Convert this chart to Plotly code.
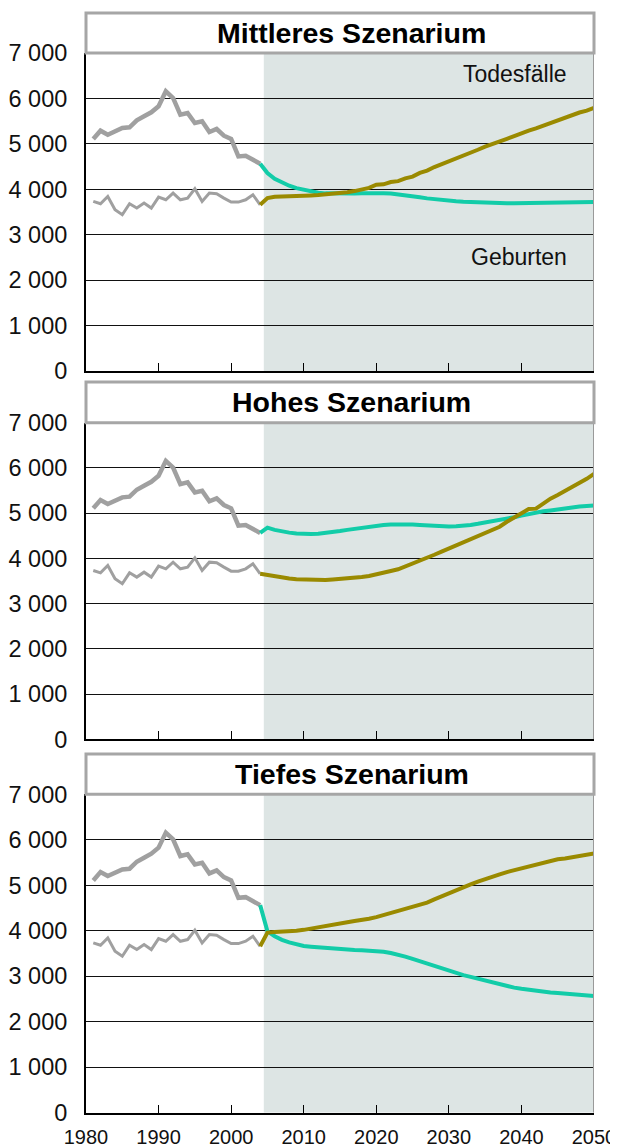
import plotly.graph_objects as go

# ---------------- data ----------------
hist_years = list(range(1981, 2005))
hist_births = [5107, 5290, 5202, 5275, 5349, 5364, 5518, 5606, 5694, 5827, 6157, 6010,
               5643, 5680, 5459, 5496, 5261, 5327, 5180, 5107, 4724, 4739, 4651, 4563]
hist_deaths = [3733, 3681, 3843, 3549, 3439, 3681, 3586, 3696, 3586, 3828, 3769, 3916,
               3769, 3806, 4012, 3733, 3916, 3902, 3806, 3718, 3718, 3769, 3880, 3659]

proj_years = list(range(2004, 2051))

mid_births = [4563, 4357, 4232, 4151, 4078, 4026, 3985, 3950, 3925, 3910,
              3905, 3900, 3900, 3905, 3910, 3915, 3920, 3915, 3905, 3890,
              3870, 3850, 3825, 3800, 3780, 3765, 3750, 3738, 3728, 3720,
              3712, 3706, 3700, 3697, 3695, 3695, 3697, 3700, 3703, 3707,
              3711, 3715, 3717, 3720, 3720, 3720, 3720]
mid_deaths = [3659, 3806, 3835, 3845, 3850, 3855, 3860, 3865, 3872, 3885,
              3900, 3915, 3935, 3960, 3990, 4030, 4100, 4110, 4160, 4180,
              4240, 4280, 4360, 4410, 4490, 4550, 4620, 4690, 4740, 4800,
              4870, 4940, 4990, 5060, 5110, 5170, 5240, 5290, 5340, 5400,
              5460, 5520, 5580, 5630, 5690, 5730, 5790]

high_births = [4563, 4680, 4630, 4595, 4570, 4550, 4540, 4538, 4545, 4560,
               4580, 4605, 4630, 4655, 4685, 4705, 4725, 4740, 4750, 4755,
               4755, 4748, 4738, 4725, 4715, 4708, 4705, 4710, 4720, 4740,
               4765, 4790, 4820, 4850, 4880, 4910, 4945, 4980, 5010, 5040,
               5060, 5085, 5105, 5125, 5145, 5160, 5170]
high_deaths = [3659, 3630, 3600, 3580, 3555, 3540, 3530, 3520, 3515, 3520,
               3535, 3545, 3555, 3570, 3590, 3610, 3640, 3670, 3720, 3760,
               3820, 3890, 3960, 4010, 4080, 4150, 4220, 4290, 4350, 4420,
               4490, 4570, 4650, 4700, 4810, 4900, 5000, 5090, 5100, 5220,
               5320, 5400, 5490, 5580, 5660, 5760, 5870]

low_births = [4563, 3990, 3880, 3800, 3745, 3700, 3665, 3650, 3635, 3620,
              3612, 3600, 3590, 3578, 3570, 3562, 3555, 3540, 3510, 3475,
              3430, 3380, 3330, 3270, 3210, 3160, 3110, 3065, 3025, 2985,
              2945, 2905, 2860, 2815, 2780, 2750, 2725, 2700, 2680, 2660,
              2645, 2630, 2615, 2600, 2590, 2580, 2566]
low_deaths = [3659, 3960, 3970, 3975, 3985, 4000, 4020, 4045, 4065, 4090,
              4115, 4150, 4185, 4215, 4235, 4265, 4300, 4345, 4380, 4425,
              4465, 4520, 4570, 4620, 4690, 4760, 4830, 4900, 4960, 5020,
              5080, 5140, 5190, 5240, 5290, 5330, 5370, 5410, 5450, 5500,
              5550, 5570, 5590, 5620, 5645, 5670, 5700]

scenario_titles = ["Mittleres Szenarium", "Hohes Szenarium", "Tiefes Szenarium"]
scenario_births = [mid_births, high_births, low_births]
scenario_deaths = [mid_deaths, high_deaths, low_deaths]

PROJ_START = 2004.5
X_RANGE = [1980, 2050]
Y_RANGE = [0, 7000]

# ---------------- style ----------------
FONT = "Liberation Sans, Arial, sans-serif"
GRAY = "#a0a0a0"
TEAL = "#12cca8"
OLIVE = "#9a8a00"
SHADE = "#dde5e4"
H = 1146.0
W = 618.0
OFF = 8  # page body margin of the html page

# panel geometry (screen pixels from top): plot top, plot bottom, title box top
panels_px = [(53, 371, 13), (422.7, 739.3, 382), (794.3, 1112.7, 754)]


def py(v):
    """screen pixel row -> paper fraction (figure with t=b=0)."""
    return 1 - (v - OFF) / H


fig = go.Figure()
shapes = []
annotations = []
layout_axes = {}

for i, (title, births, deaths) in enumerate(zip(scenario_titles, scenario_births, scenario_deaths)):
    n = i + 1
    xa = "x" if n == 1 else f"x{n}"
    ya = "y" if n == 1 else f"y{n}"
    top, bot, ttop = panels_px[i]
    dom = [py(bot), py(top)]

    fig.add_trace(go.Scatter(x=hist_years, y=hist_births, mode="lines",
                             line=dict(color=GRAY, width=4.5), xaxis=xa, yaxis=ya,
                             showlegend=False, hoverinfo="skip"))
    fig.add_trace(go.Scatter(x=hist_years, y=hist_deaths, mode="lines",
                             line=dict(color=GRAY, width=3), xaxis=xa, yaxis=ya,
                             showlegend=False, hoverinfo="skip"))
    fig.add_trace(go.Scatter(x=proj_years, y=births, mode="lines",
                             line=dict(color=TEAL, width=4), xaxis=xa, yaxis=ya,
                             showlegend=False, name="Geburten"))
    fig.add_trace(go.Scatter(x=proj_years, y=deaths, mode="lines",
                             line=dict(color=OLIVE, width=4), xaxis=xa, yaxis=ya,
                             showlegend=False, name="Todesfälle"))

    layout_axes[f"xaxis{'' if n == 1 else n}"] = dict(
        domain=[0, 1], range=X_RANGE, anchor=ya, tick0=1980, dtick=10,
        ticks="inside", ticklen=8, tickwidth=1, tickcolor="#000",
        showline=True, linecolor="#000", linewidth=2, showgrid=False, zeroline=False,
        showticklabels=(n == 3), tickfont=dict(family=FONT, size=20, color="#111"),
        ticklabelstandoff=5, automargin=False, fixedrange=True)
    layout_axes[f"yaxis{'' if n == 1 else n}"] = dict(
        domain=dom, range=Y_RANGE, anchor=xa, dtick=1000, tick0=0,
        showgrid=True, gridcolor="#111", gridwidth=1, zeroline=False,
        showline=True, linecolor="#000", linewidth=2, ticks="",
        tickformat=",d", tickfont=dict(family=FONT, size=23.5, color="#111"),
        ticklabelstandoff=12, automargin=False, fixedrange=True)

    # projection shading
    shapes.append(dict(type="rect", xref=xa, yref=ya, x0=PROJ_START, x1=X_RANGE[1],
                       y0=Y_RANGE[0], y1=Y_RANGE[1], fillcolor=SHADE,
                       line=dict(width=0), layer="below"))
    # right border
    shapes.append(dict(type="line", xref=xa, yref=ya, x0=X_RANGE[1], x1=X_RANGE[1],
                       y0=Y_RANGE[0], y1=Y_RANGE[1], line=dict(color="#9a9a9a", width=2)))
    # title box
    shapes.append(dict(type="rect", xref="paper", yref="paper", x0=0, x1=1,
                       y0=py(top), y1=py(ttop), fillcolor="white",
                       line=dict(color="#a6a6a6", width=3), layer="above"))
    annotations.append(dict(text=f"<b>{title}</b>", xref="paper", yref="paper",
                            x=0.5236, y=py((ttop + top) / 2), xanchor="center",
                            yanchor="middle", showarrow=False,
                            font=dict(family=FONT, size=28.5, color="#000")))

annotations.append(dict(text="Todesfälle", xref="x", yref="y", x=2046.6, y=6537,
                        xanchor="right", yanchor="middle", showarrow=False,
                        font=dict(family=FONT, size=23, color="#111")))
annotations.append(dict(text="Geburten", xref="x", yref="y", x=2046.6, y=2516,
                        xanchor="right", yanchor="middle", showarrow=False,
                        font=dict(family=FONT, size=23, color="#111")))

fig.update_layout(
    template="none",
    width=W, height=H,
    margin=dict(l=86 - OFF, r=W - (594 - OFF), t=0, b=0, autoexpand=False),
    paper_bgcolor="white", plot_bgcolor="white",
    separators=", ",
    showlegend=False,
    shapes=shapes, annotations=annotations,
    font=dict(family=FONT),
    **layout_axes,
)

fig.write_html("out.html")
